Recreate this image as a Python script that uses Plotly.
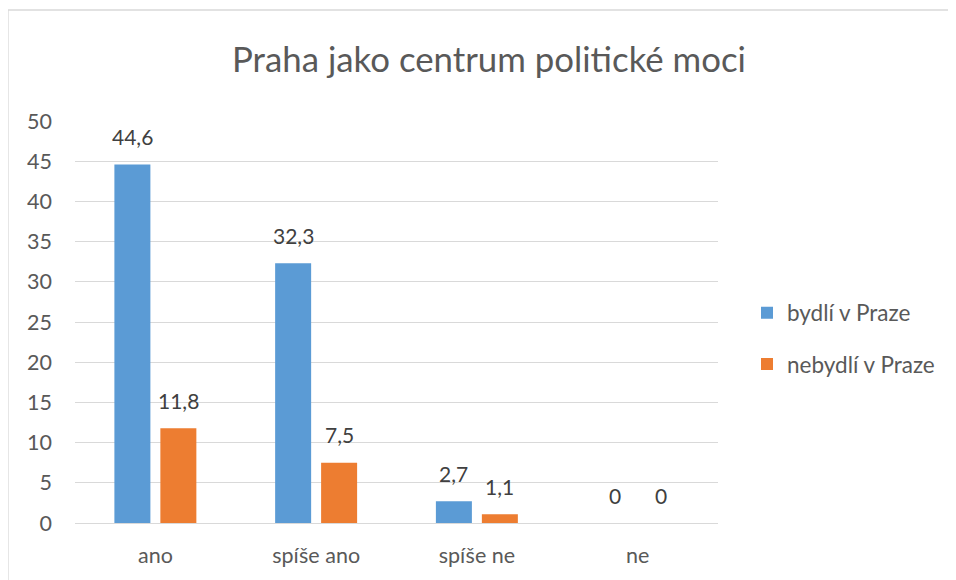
import plotly.graph_objects as go

categories = ["ano", "spíše ano", "spíše ne", "ne"]
bydli = [44.6, 32.3, 2.7, 0]
nebydli = [11.8, 7.5, 1.1, 0]
series_names = ["bydlí v Praze", "nebydlí v Praze"]
colors = ["#5B9BD5", "#ED7D31"]
y_ticks = list(range(0, 51, 5))
title = "Praha jako centrum politické moci"

FONT = "Lato"
W, H = 956, 580
OFF = 8  # page body margin
# plot area in page coordinates: x 75..718, y 121..523
L, T = 75 - OFF, 121 - OFF
pw, ph = 643, 402
R, B = W - L - pw, H - T - ph
ybot = T + ph  # figure coord of y=0

def fmt(v):
    return ("%g" % v).replace(".", ",")

fig = go.Figure()
for name, vals, col in zip(series_names, [bydli, nebydli], colors):
    fig.add_trace(go.Bar(x=categories, y=vals, name=name, marker_color=col,
                         marker_line_width=0, legendgroup=name))

# data labels
for i, vals in enumerate([bydli, nebydli]):
    shift = -23 if i == 0 else 23
    for c, v in zip(categories, vals):
        fig.add_annotation(x=c, y=v, text=fmt(v), showarrow=False, xshift=shift,
                           yshift=28, font=dict(family=FONT, size=21, color="#404040"))

# chart border (page x=8, y=10)
fig.add_shape(type="rect", xref="paper", yref="paper",
              x0=(8 - OFF - L) / pw, x1=(W + 10 - L) / pw,
              y0=-(H + 10 - ybot) / ph, y1=(ybot - (10 - OFF)) / ph,
              line=dict(color="#D9D9D9", width=1.3), layer="below")

fig.update_layout(
    width=W, height=H,
    margin=dict(l=L, r=R, t=T, b=B, autoexpand=False),
    paper_bgcolor="white", plot_bgcolor="white",
    barmode="group", bargap=0.428, bargroupgap=0.217,
    title=dict(text=title, x=(489 - OFF) / W, xanchor="center", y=1 - (60 - OFF) / H,
               yanchor="middle", font=dict(family=FONT, size=34.8, color="#595959")),
    legend=dict(x=(747 - OFF - L) / pw, xanchor="left", y=(ybot - (338.5 - OFF)) / ph,
                yanchor="middle", font=dict(family=FONT, size=22.5, color="#595959"),
                tracegroupgap=19, bgcolor="rgba(0,0,0,0)", itemwidth=30),
    showlegend=True,
)
fig.update_xaxes(showline=False, ticks="", tickfont=dict(family=FONT, size=21.5, color="#595959"),
                 ticklabelstandoff=17)
fig.update_yaxes(range=[0, 50], tickvals=y_ticks, showgrid=True, gridcolor="#D9D9D9", gridwidth=1,
                 zeroline=True, zerolinecolor="#D9D9D9", zerolinewidth=1, ticks="",
                 tickfont=dict(family=FONT, size=21.5, color="#595959"), ticklabelstandoff=22)

fig.write_html("out.html")
